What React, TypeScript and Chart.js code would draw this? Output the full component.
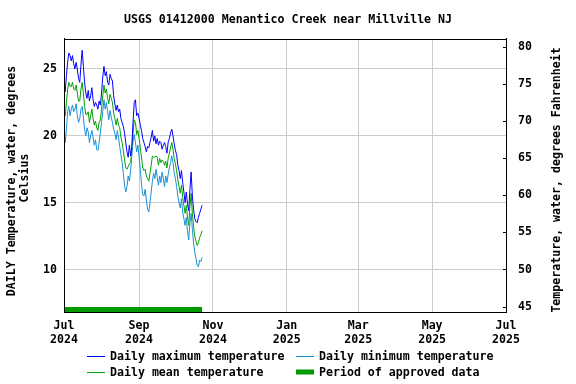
import React, { useEffect, useRef } from "react";
import { Chart, registerables } from "chart.js";

Chart.register(...registerables);

const TITLE = "USGS 01412000 Menantico Creek near Millville NJ";
const LEFT_TITLE = ["DAILY Temperature, water, degrees", "Celsius"];
const RIGHT_TITLE = "Temperature, water, degrees Fahrenheit";

// days since 1 Jul 2024
const tickDays = [0, 62, 123, 184, 243, 304, 365];
const tickLabels = [
  ["Jul", "2024"],
  ["Sep", "2024"],
  ["Nov", "2024"],
  ["Jan", "2025"],
  ["Mar", "2025"],
  ["May", "2025"],
  ["Jul", "2025"],
];
const celsiusTicks = [10, 15, 20, 25];
const fahrenheitTicks = [45, 50, 55, 60, 65, 70, 75, 80];

const maxTemp = [
  23.8, 23.3, 24.5, 25.5, 26.2, 26.0, 25.6, 26.0, 25.4, 25.0,
  25.5, 25.0, 24.3, 24.0, 25.3, 26.4, 25.2, 24.0, 23.2, 22.8,
  23.4, 22.6, 23.0, 23.6, 22.7, 22.2, 22.5, 22.3, 22.0, 22.6,
  22.3, 23.2, 24.4, 25.2, 24.5, 24.8, 24.0, 23.8, 24.6, 24.3,
  24.1, 23.0, 22.4, 21.9, 22.3, 21.8, 22.0, 21.3, 21.0, 20.7,
  20.2, 19.5, 18.8, 18.4, 19.3, 18.5, 19.2, 21.0, 22.5, 22.7,
  21.5, 21.7, 21.3, 20.8, 20.4, 19.8, 19.5, 19.2, 18.8, 19.2,
  19.1, 19.5, 19.9, 20.4, 19.6, 20.0, 19.4, 19.8, 19.3, 19.6,
  19.5, 19.0, 19.3, 19.5, 19.2, 18.7, 19.5, 19.8, 20.2, 20.5,
  20.0, 19.4, 18.9, 18.6, 17.8, 17.4, 16.8, 17.4, 16.5, 15.8,
  15.0, 15.8, 14.9, 14.4, 16.0, 17.3, 15.5, 14.5, 13.8, 13.6,
  13.5, 13.9, 14.2, 14.5, 14.8,
];

const minTemp = [
  21.0, 19.5, 20.5, 21.8, 22.2, 21.5, 22.0, 22.3, 21.8, 22.0,
  22.4, 21.5, 21.0, 21.3, 22.0, 22.2, 21.4, 20.5, 20.0, 20.6,
  20.3, 19.5, 20.0, 20.4, 19.9, 19.3, 19.7, 19.0, 18.9, 19.5,
  20.2, 21.0, 21.8, 22.7, 22.0, 22.5, 21.8, 21.2, 21.9, 21.4,
  21.0, 20.5, 20.2, 19.7, 20.4, 19.9, 19.2, 18.6, 18.0, 17.2,
  16.3, 15.8, 16.2, 17.0, 16.6, 17.4, 18.5, 19.6, 20.1, 19.5,
  18.8, 19.3, 18.4, 17.5, 16.4, 15.6, 15.5, 16.0, 15.2, 14.5,
  14.3, 15.0, 15.8, 16.6, 17.2, 16.8, 17.5, 16.9, 16.3, 17.0,
  16.5, 17.3, 16.8, 16.2, 17.0, 16.5, 17.1, 17.6, 18.0, 18.5,
  18.0, 17.2, 16.8, 16.2, 15.5, 15.0, 14.6, 15.3, 14.3, 13.8,
  13.3, 13.9, 12.8, 12.2, 13.5, 14.2, 13.0, 12.0, 11.3, 10.8,
  10.3, 10.2, 10.7, 10.6, 10.9,
];

const meanTemp = [
  22.3, 21.5, 22.5, 23.5, 24.0, 23.7, 23.7, 24.0, 23.5, 23.4,
  23.8, 23.2, 22.6, 22.6, 23.5, 24.0, 23.2, 22.2, 21.6, 21.6,
  21.8, 21.0, 21.5, 22.0, 21.3, 20.8, 21.1, 20.6, 20.4, 21.0,
  21.2, 22.0, 23.0, 23.8, 23.2, 23.5, 22.8, 22.4, 23.1, 22.8,
  22.5, 21.7, 21.3, 20.8, 21.3, 20.8, 20.6, 19.9, 19.5, 18.9,
  18.2, 17.6, 17.5, 17.7, 17.9, 18.0, 18.9, 20.2, 21.2, 21.0,
  20.1, 20.4, 19.8, 19.1, 18.4, 17.6, 17.4, 17.5, 17.0, 16.8,
  16.6, 17.2, 17.8, 18.5, 18.4, 18.4, 18.5, 18.4, 17.8, 18.3,
  18.0, 18.2, 18.1, 17.8, 18.1, 17.6, 18.3, 18.7, 19.1, 19.5,
  19.0, 18.3, 17.9, 17.4, 16.7, 16.2, 15.7, 16.3, 15.4, 14.8,
  14.2, 14.8, 13.9, 13.3, 14.7, 15.7, 14.2, 13.2, 12.5, 12.1,
  11.8, 12.0, 12.4, 12.6, 12.9,
];

// period of approved data: [startDay, endDay] drawn at this Celsius level
const approvedDays = [0, 114];
const approvedLevel = [7.0, 7.0];

const Y_MIN = 6.82;
const Y_MAX = 27.25;

const FONT = "'DejaVu Sans Mono', monospace";
const FONT_SIZE = 11.6;
const COLOR_MAX = "#0000ff";
const COLOR_MIN = "#1a8fd8";
const COLOR_MEAN = "#00a000";
const COLOR_APPROVED = "#009900";

const legendItems = [
  { label: "Daily maximum temperature", color: COLOR_MAX, width: 1, col: 0, row: 0 },
  { label: "Daily minimum temperature", color: COLOR_MIN, width: 1, col: 1, row: 0 },
  { label: "Daily mean temperature", color: COLOR_MEAN, width: 1, col: 0, row: 1 },
  { label: "Period of approved data", color: COLOR_APPROVED, width: 5, col: 1, row: 1 },
];

const toXY = (arr: number[]) => arr.map((v, i) => ({ x: i, y: v }));

const decorPlugin = {
  id: "decor",
  afterDatasetsDraw(chart: any) {
    const { ctx, chartArea } = chart;
    const { left, right, top, bottom } = chartArea;
    ctx.save();
    ctx.strokeStyle = "#000";
    ctx.lineWidth = 1;
    ctx.strokeRect(Math.round(left) + 0.5, Math.round(top) + 0.5, Math.round(right - left), Math.round(bottom - top));
    const y2 = chart.scales.y2;
    fahrenheitTicks.forEach((f) => {
      const py = Math.round(y2.getPixelForValue(f)) + 0.5;
      ctx.beginPath();
      ctx.moveTo(Math.round(right) - 3, py);
      ctx.lineTo(Math.round(right), py);
      ctx.stroke();
    });
    ctx.restore();
  },
  afterDraw(chart: any) {
    const { ctx } = chart;
    ctx.save();
    ctx.fillStyle = "#000";
    ctx.font = `bold ${FONT_SIZE}px ${FONT}`;
    ctx.textAlign = "center";
    ctx.textBaseline = "middle";
    const cy = 181;
    ctx.save();
    ctx.translate(12, cy);
    ctx.rotate(-Math.PI / 2);
    ctx.fillText(LEFT_TITLE[0], 0, 0);
    ctx.restore();
    ctx.save();
    ctx.translate(25, cy - 3);
    ctx.rotate(-Math.PI / 2);
    ctx.fillText(LEFT_TITLE[1], 0, 0);
    ctx.restore();
    ctx.save();
    ctx.translate(557, 180);
    ctx.rotate(-Math.PI / 2);
    ctx.fillText(RIGHT_TITLE, 0, 0);
    ctx.restore();
    const colX = [87, 296];
    const rowY = [356, 372];
    ctx.textAlign = "left";
    legendItems.forEach((it) => {
      const x = colX[it.col];
      const y = rowY[it.row];
      ctx.strokeStyle = it.color;
      ctx.lineWidth = it.width;
      ctx.beginPath();
      ctx.moveTo(x, y + (it.width === 1 ? 0.5 : 0));
      ctx.lineTo(x + 18, y + (it.width === 1 ? 0.5 : 0));
      ctx.stroke();
      ctx.fillText(it.label, x + 23, y + 1);
    });
    ctx.restore();
  },
};

export default function App() {
  const ref = useRef<HTMLCanvasElement | null>(null);
  useEffect(() => {
    if (!ref.current) return;
    const tickFont = { family: FONT, size: FONT_SIZE, weight: "bold" as const };
    const chart = new Chart(ref.current, {
      type: "line",
      data: {
        datasets: [
          { label: "Daily maximum temperature", data: toXY(maxTemp), borderColor: COLOR_MAX, borderWidth: 1, pointRadius: 0, yAxisID: "y" },
          { label: "Daily minimum temperature", data: toXY(minTemp), borderColor: COLOR_MIN, borderWidth: 1, pointRadius: 0, yAxisID: "y" },
          { label: "Daily mean temperature", data: toXY(meanTemp), borderColor: COLOR_MEAN, borderWidth: 1, pointRadius: 0, yAxisID: "y" },
          {
            label: "Period of approved data",
            data: approvedDays.map((d, i) => ({ x: d, y: approvedLevel[i] })),
            borderColor: COLOR_APPROVED,
            borderWidth: 5,
            borderCapStyle: "butt",
            pointRadius: 0,
            yAxisID: "y",
          },
        ],
      },
      options: {
        animation: false,
        responsive: false,
        maintainAspectRatio: false,
        layout: { padding: { left: 0, right: 0, top: 0, bottom: 32 } },
        plugins: {
          legend: { display: false },
          tooltip: { enabled: false },
          title: {
            display: true,
            text: TITLE,
            color: "#000",
            font: { family: FONT, size: FONT_SIZE, weight: "bold" },
            padding: { top: 13, bottom: 12 },
          },
        },
        scales: {
          x: {
            type: "linear",
            min: 0,
            max: 365,
            afterBuildTicks: (ax: any) => {
              ax.ticks = tickDays.map((v) => ({ value: v }));
            },
            afterFit: (s: any) => {
              s.height = 40;
            },
            ticks: {
              autoSkip: false,
              maxRotation: 0,
              padding: 7,
              color: "#000",
              font: tickFont,
              callback: (v: any) => {
                const i = tickDays.indexOf(Number(v));
                return i >= 0 ? tickLabels[i] : "";
              },
            },
            grid: { color: "#cccccc", drawTicks: false, lineWidth: 1 },
            border: { color: "#000", display: true },
          },
          y: {
            position: "left",
            min: Y_MIN,
            max: Y_MAX,
            afterBuildTicks: (ax: any) => {
              ax.ticks = celsiusTicks.map((v) => ({ value: v }));
            },
            afterFit: (s: any) => {
              s.width = 64;
            },
            ticks: { padding: 7, color: "#000", font: tickFont },
            grid: { color: "#cccccc", drawTicks: false, lineWidth: 1 },
            border: { color: "#000" },
          },
          y2: {
            position: "right",
            min: Y_MIN * 1.8 + 32,
            max: Y_MAX * 1.8 + 32,
            afterBuildTicks: (ax: any) => {
              ax.ticks = fahrenheitTicks.map((v) => ({ value: v }));
            },
            afterFit: (s: any) => {
              s.width = 70;
            },
            ticks: { padding: 12, color: "#000", font: tickFont },
            grid: { display: false, drawOnChartArea: false, drawTicks: false },
            border: { color: "#000" },
          },
        },
      },
      plugins: [decorPlugin],
    } as any);
    return () => chart.destroy();
  }, []);
  return (
    <div style={{ position: "absolute", left: 0, top: 0, width: 576, height: 384, background: "#fff" }}>
      <canvas ref={ref} width={576} height={384} style={{ display: "block", width: 576, height: 384 }} />
    </div>
  );
}
